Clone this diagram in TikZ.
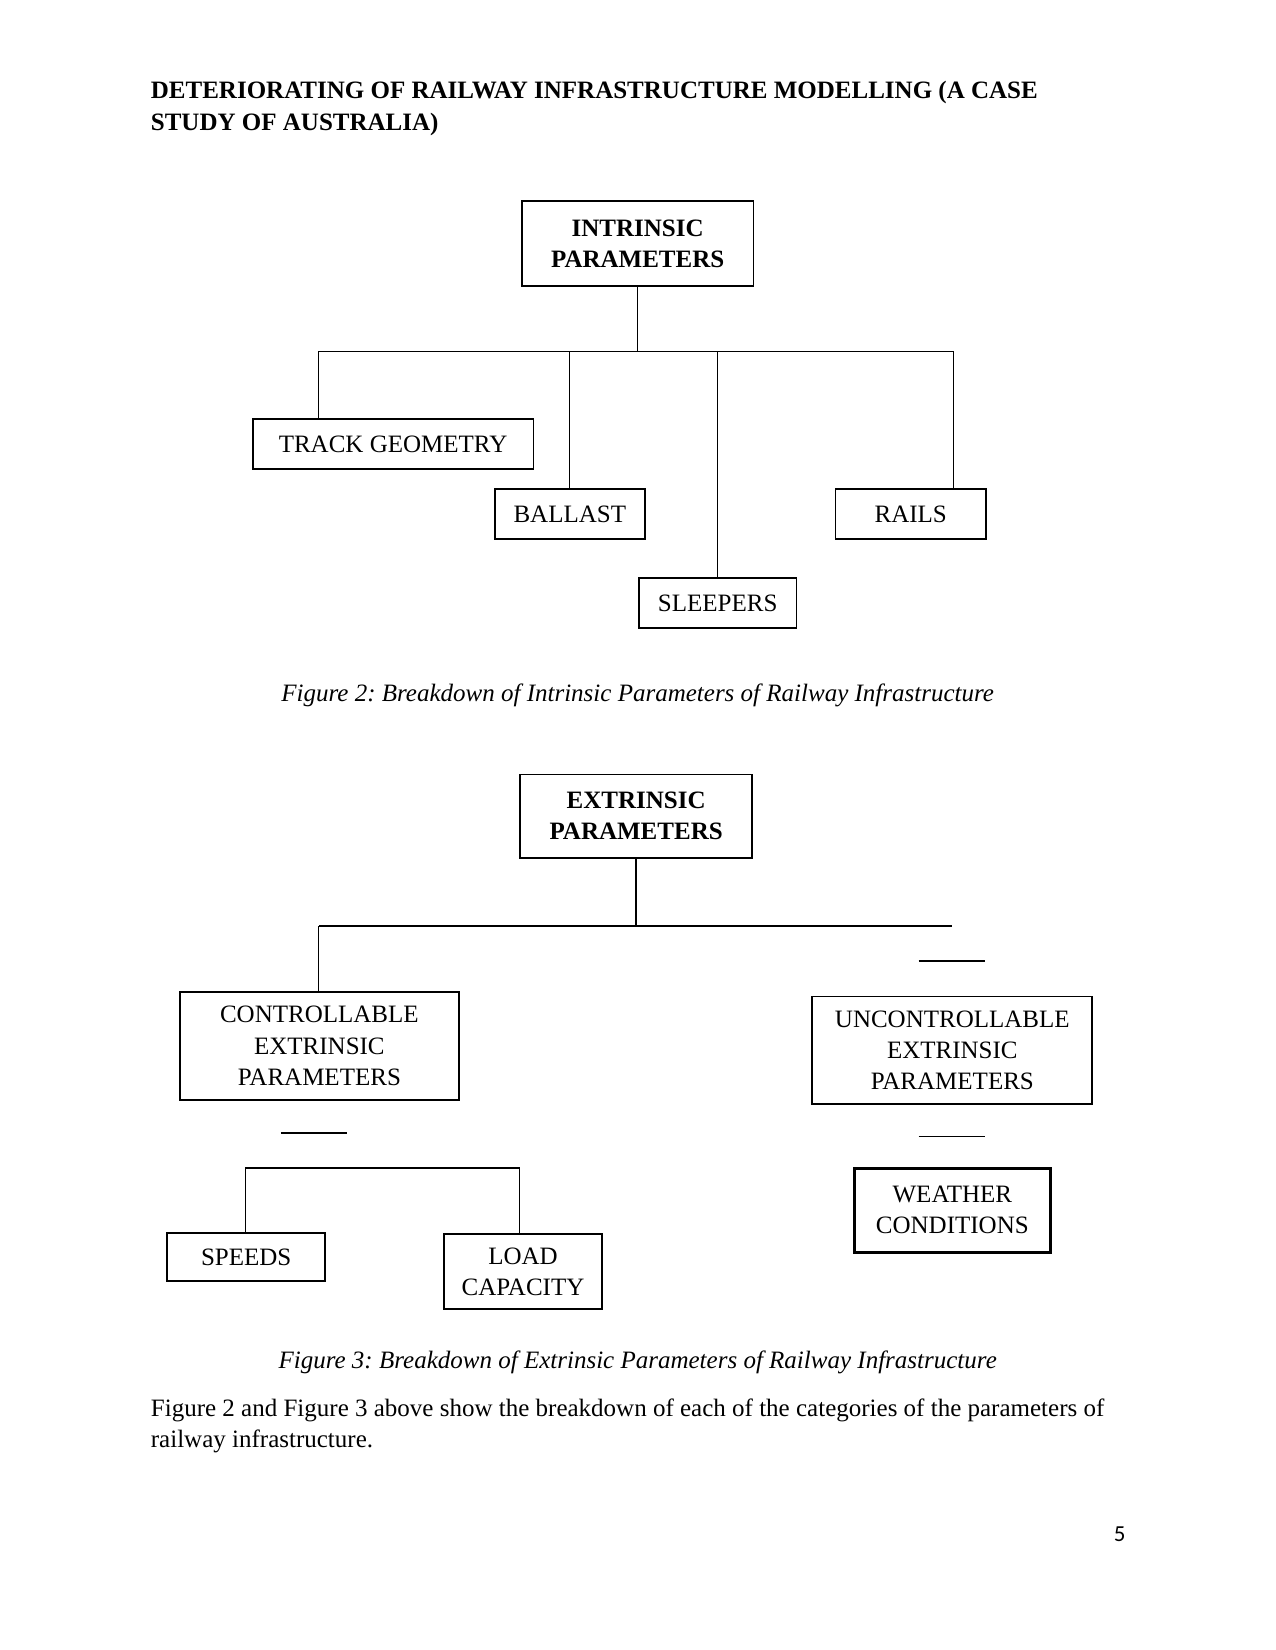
\documentclass[tikz,border=0pt]{standalone}
\usepackage{fontspec}
\setmainfont{Liberation Serif}
\newfontfamily\pagefont{Carlito}
\usetikzlibrary{positioning}
\frenchspacing

\begin{document}
\begin{tikzpicture}[x=0.50495pt, y=-0.50495pt,
  every node/.style={font=\fontsize{12}{15}\selectfont},
  box/.style={draw, line width=0.9pt, inner sep=0pt, align=center},
  boldbox/.style={box, font=\fontsize{12}{15}\selectfont\bfseries},
  link/.style={line width=0.6pt},
  stub/.style={line width=0.9pt},
  caption/.style={font=\fontsize{12}{15}\selectfont\itshape}]
\useasboundingbox (0,0) rectangle (1212,1568);
\node[anchor=west, align=left, inner sep=0pt, font=\fontsize{12}{15}\selectfont\bfseries] (title) at (143,103)
  {DETERIORATING OF RAILWAY INFRASTRUCTURE MODELLING (A CASE\\ STUDY OF AUSTRALIA)};
\node[boldbox, minimum width=111.1pt, minimum height=40.9pt] (intr) at (606,231.5) {INTRINSIC\\ PARAMETERS};
\node[box, minimum width=134.8pt, minimum height=24.2pt] (track) at (373.5,422) {TRACK GEOMETRY};
\node[box, minimum width=72.2pt, minimum height=23.7pt] (ballast) at (541.5,488.5) {BALLAST};
\node[box, minimum width=72.2pt, minimum height=23.7pt] (rails) at (865.5,488.5) {RAILS};
\node[box, minimum width=75.7pt, minimum height=24.2pt] (sleepers) at (682,573) {SLEEPERS};
\coordinate (busA) at (303,334);
\coordinate (busB) at (906,334);
\draw[link] (intr.south) -- (intr.south |- busA);
\draw[link] (busA) -- (busB);
\draw[link] (busA) -- (busA |- track.north);
\draw[link] (ballast.north) -- (ballast.north |- busA);
\draw[link] (sleepers.north) -- (sleepers.north |- busA);
\draw[link] (busB) -- (busB |- rails.north);
\node[caption] (cap2) at (606,661) {Figure 2: Breakdown of Intrinsic Parameters of Railway Infrastructure};
\node[boldbox, minimum width=111.6pt, minimum height=39.9pt] (extr) at (604.5,775.5) {EXTRINSIC\\ PARAMETERS};
\node[box, minimum width=133.8pt, minimum height=51.5pt] (ctrl) at (303.5,994) {CONTROLLABLE\\ EXTRINSIC\\ PARAMETERS};
\node[box, minimum width=134.3pt, minimum height=51.5pt] (unctrl) at (905,998) {UNCONTROLLABLE\\ EXTRINSIC\\ PARAMETERS};
\node[box, minimum width=75.7pt, minimum height=22.7pt] (speeds) at (234,1194.5) {SPEEDS};
\node[box, minimum width=75.7pt, minimum height=35.9pt] (load) at (497,1208.5) {LOAD\\ CAPACITY};
\node[box, line width=1.4pt, minimum width=93.9pt, minimum height=40.4pt] (weather) at (905,1150) {WEATHER\\ CONDITIONS};
\coordinate (busC) at (303,880);
\coordinate (busD) at (905,880);
\coordinate (busE) at (233,1110);
\coordinate (busF) at (494,1110);
\draw[link] (extr.south) -- (extr.south |- busC);
\draw[link] (busC) -- (busD);
\draw[link] (busC) -- (busC |- ctrl.north);
\draw[link] (busE) -- (busF);
\draw[link] (busE) -- (busE |- speeds.north);
\draw[link] (busF) -- (busF |- load.north);
\coordinate (stubA) at (873,913);
\coordinate (stubB) at (267,1077);
\coordinate (stubC) at (873,1080);
\draw[stub] (stubA) -- ++(63,0);
\draw[stub] (stubB) -- ++(63,0);
\draw[stub] (stubC) -- ++(63,0);
\node[caption] (cap3) at (606,1295) {Figure 3: Breakdown of Extrinsic Parameters of Railway Infrastructure};
\node[anchor=west, align=left, inner sep=0pt] (para) at (143,1355)
  {Figure 2 and Figure 3 above show the breakdown of each of the categories of the parameters of\\ railway infrastructure.};
\node[font=\fontsize{11}{13}\pagefont] (pagenum) at (1064,1458) {5};
\end{tikzpicture}
\end{document}
